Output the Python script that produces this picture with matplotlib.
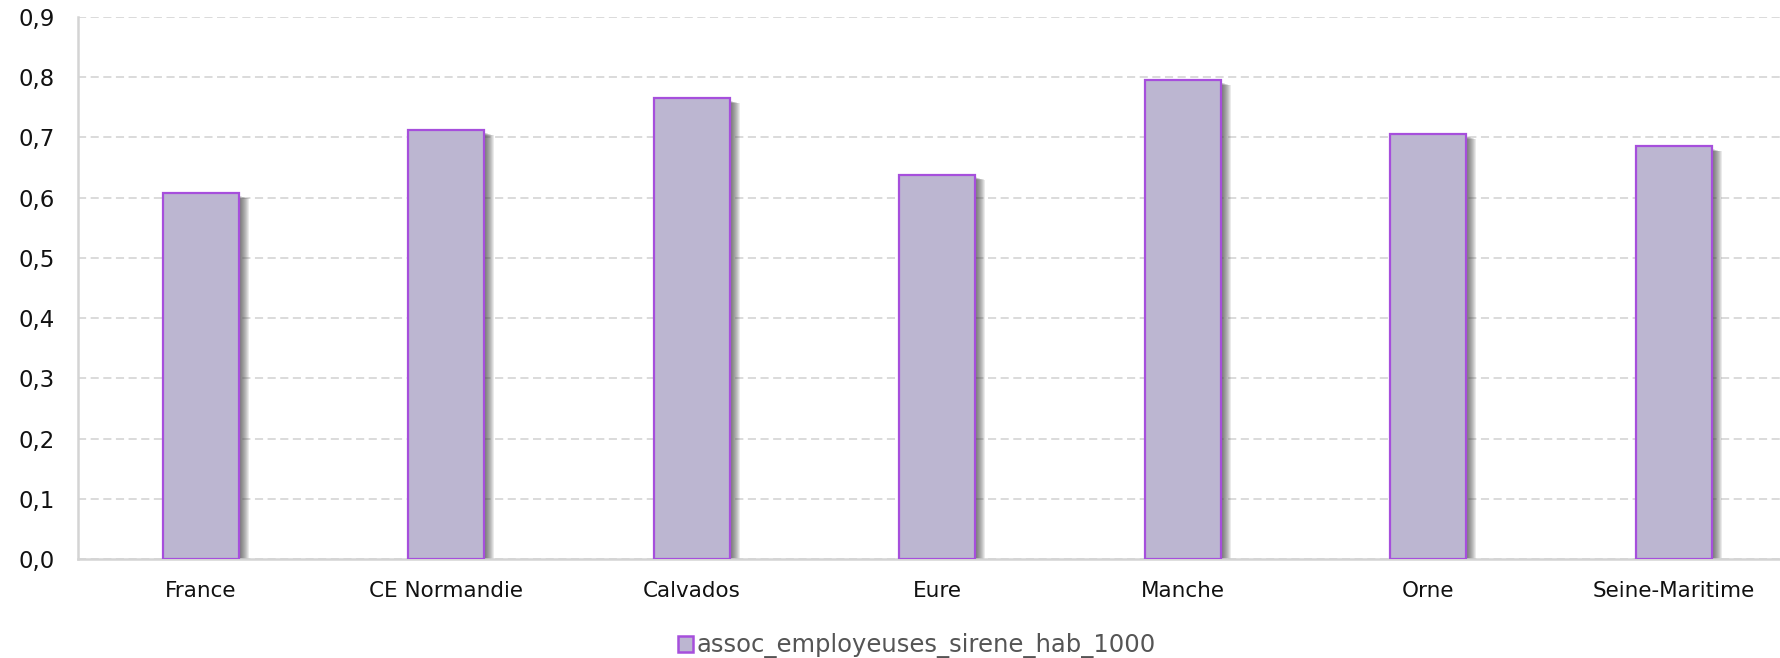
import numpy as np
import matplotlib
matplotlib.use("Agg")
import matplotlib.pyplot as plt
import matplotlib.transforms as mtransforms
from matplotlib.patches import Patch

categories = ["France", "CE Normandie", "Calvados", "Eure", "Manche", "Orne", "Seine-Maritime"]
values = [0.607, 0.712, 0.765, 0.638, 0.795, 0.706, 0.685]
series_name = "assoc_employeuses_sirene_hab_1000"
yticks = [0.0, 0.1, 0.2, 0.3, 0.4, 0.5, 0.6, 0.7, 0.8, 0.9]

fill = "#bcb6d1"
edge = "#a64fdc"

W, H, DPI = 1781, 658, 100
fig = plt.figure(figsize=(W / DPI, H / DPI), dpi=DPI)
ax = fig.add_axes([78 / W, 99 / H, (W - 78) / W, (559 - 17) / H])

x = np.arange(len(categories))
largura = 0.31

# ombre portée floue à droite des barres
for k in range(1, 11):
    off = mtransforms.ScaledTranslation(k / DPI, -(2 + k * 0.3) / DPI, fig.dpi_scale_trans)
    ax.bar(x, values, width=largura, color="#3a3a3a", alpha=0.1, linewidth=0,
           transform=ax.transData + off, zorder=2)

ax.bar(x, values, width=largura, color=fill, edgecolor=edge, linewidth=1.6, zorder=3)

ax.set_xlim(-0.5, (W - 78) / 245.5 - 0.5)
ax.set_ylim(0, 0.9)
ax.set_yticks(yticks)
ax.set_yticklabels([f"{v:.1f}".replace(".", ",") for v in yticks])
ax.set_xticks(x)
ax.set_xticklabels(categories)
ax.tick_params(axis="both", length=0, colors="#111111")
ax.tick_params(axis="y", pad=17, labelsize=16.5)
ax.tick_params(axis="x", pad=16, labelsize=15.5)

ax.grid(True, axis="y", color="#d8d8d8", linewidth=1.3, linestyle=(0, (4.5, 2.5)), zorder=0)
ax.set_axisbelow(True)
for s in ["top", "right"]:
    ax.spines[s].set_visible(False)
for s in ["left", "bottom"]:
    ax.spines[s].set_color("#d4d4d4")
    ax.spines[s].set_linewidth(1.8)

handle = Patch(facecolor=fill, edgecolor=edge, linewidth=1.8)
fig.legend([handle], [series_name], loc="center", bbox_to_anchor=(917 / W, 1 - 646 / H),
           frameon=False, fontsize=17.5, labelcolor="#555555", handlelength=0.6, handleheight=0.6,
           handletextpad=0.15)

fig.savefig("out.png", dpi=DPI)
